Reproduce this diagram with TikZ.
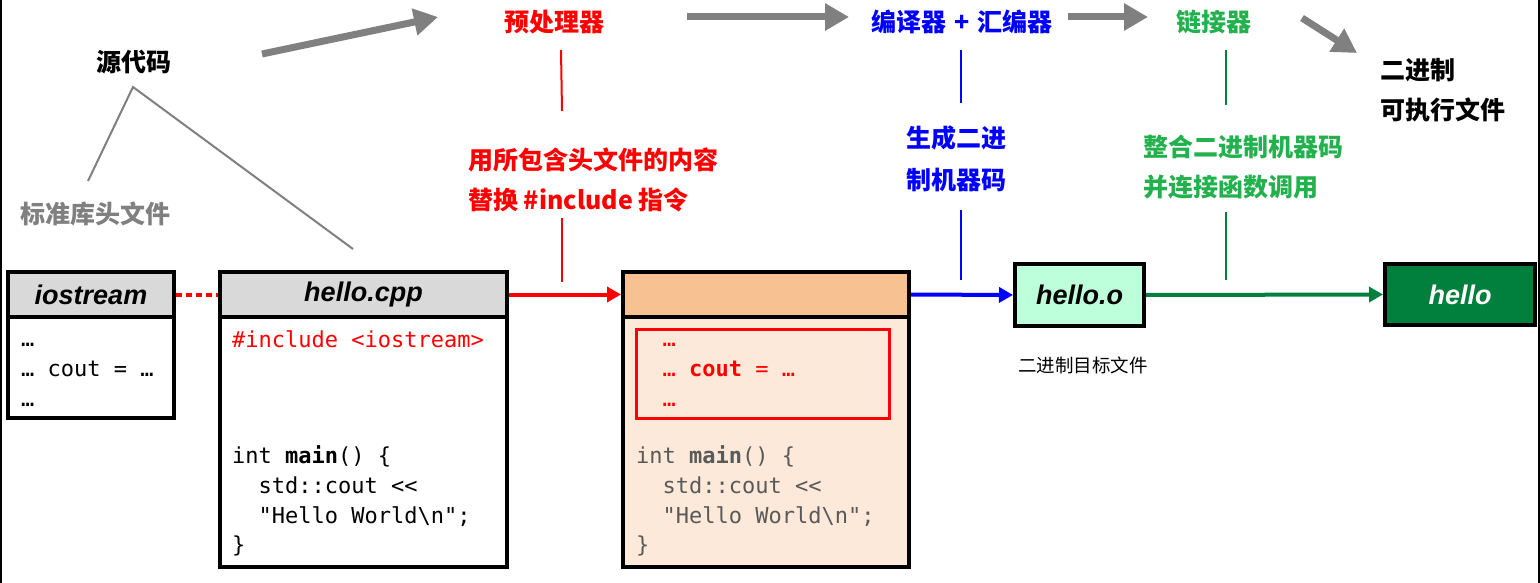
\documentclass[tikz,border=0pt]{standalone}
\usepackage{fontspec}
\setmainfont{Noto Sans}
\setmonofont{DejaVu Sans Mono}
\newfontfamily\cjk{Noto Sans CJK SC}
\newfontfamily\hdrf{Liberation Sans}
\usetikzlibrary{arrows.meta}
\definecolor{hdrgray}{HTML}{D9D9D9}
\definecolor{orangehdr}{HTML}{F8C191}
\definecolor{orangebody}{HTML}{FDE9D9}
\definecolor{mint}{HTML}{BDFFDA}
\definecolor{darkgreen}{HTML}{00803C}
\definecolor{lightgreen}{HTML}{22B14C}
\definecolor{arrowgray}{HTML}{808080}
\definecolor{codegray}{HTML}{595959}
\definecolor{pred}{HTML}{FF0000}
\definecolor{pblue}{HTML}{0000FF}
\begin{document}
\begin{tikzpicture}[x=1pt,y=-1pt,
  filebox/.style={draw=black, line width=4pt, inner sep=0pt},
  hdrfont/.style={font=\hdrf\bfseries\itshape\fontsize{27}{31}\selectfont},
  code/.style={anchor=base west, inner sep=0pt, font=\ttfamily\fontsize{22}{26}\selectfont},
  zh/.style={inner sep=0pt, font=\cjk\bfseries\fontsize{25}{29}\selectfont},
  zhl/.style={zh, anchor=west},
  bigarrow/.style={draw=arrowgray, line width=7pt, -{Triangle[length=24pt 0 0, width=26pt 0 0]}},
  colarrow/.style={line width=4pt, -{Triangle[length=14pt 0 0, width=15pt 0 0]}},
  thin/.style={line width=2pt},
  linkline/.style={draw=arrowgray, line width=2pt}
]
\useasboundingbox (0,0) rectangle (1540,583);
\fill[white] (0,0) rectangle (1540,583);
\draw[black, line width=2pt] (1,0) -- (1,583);
\draw[black, line width=2pt] (1538.5,0) -- (1538.5,583);

% ---------- iostream ----------
\node[filebox, fill=hdrgray, minimum width=166pt, minimum height=45pt, hdrfont] (ios) at (91,294.5) {iostream};
\node[filebox, fill=white, minimum width=166pt, minimum height=101pt] (iosbody) at (91,367.5) {};
\node[code] (ios1) at (21,346) {…};
\node[code] (ios2) at (21,376) {… cout = …};
\node[code] (ios3) at (21,406) {…};

% ---------- hello.cpp ----------
\node[filebox, fill=hdrgray, minimum width=287pt, minimum height=45pt, hdrfont] (cpp) at (363.5,294.5) {hello.cpp};
\node[filebox, fill=white, minimum width=287pt, minimum height=250pt] (cppbody) at (363.5,442) {};
\node[code, text=pred] (c1) at (232,347) {\#include <iostream>};
\node[code] (c2) at (232,463) {int \textbf{main}() \{};
\node[code] (c3) at (232,493) {\ \ std::cout <<};
\node[code] (c4) at (232,523) {\ \ "Hello World\textbackslash n";};
\node[code] (c5) at (232,552) {\}};

% ---------- preprocessed ----------
\node[filebox, fill=orangehdr, minimum width=286pt, minimum height=45pt] (pre) at (766,294.5) {};
\node[filebox, fill=orangebody, minimum width=286pt, minimum height=250pt] (prebody) at (766,442) {};
\node[draw=pred, line width=3pt, minimum width=253pt, minimum height=89pt, inner sep=0pt] (inc) at (762.5,373.5) {};
\node[code, text=pred] (p1) at (636,346) {\ \ …};
\node[code, text=pred] (p2) at (636,376) {\ \ … \textbf{cout} = …};
\node[code, text=pred] (p3) at (636,406) {\ \ …};
\node[code, text=codegray] (p4) at (636,463) {int \textbf{main}() \{};
\node[code, text=codegray] (p5) at (636,493) {\ \ std::cout <<};
\node[code, text=codegray] (p6) at (636,523) {\ \ "Hello World\textbackslash n";};
\node[code, text=codegray] (p7) at (636,552) {\}};

% ---------- hello.o / hello ----------
\node[filebox, fill=mint, minimum width=129pt, minimum height=62pt, hdrfont] (obj) at (1079.5,295) {hello.o};
\node[filebox, fill=darkgreen, text=white, minimum width=150pt, minimum height=61pt, hdrfont] (exe) at (1460,294.5) {hello};
\node[inner sep=0pt, font=\cjk\fontsize{18.5}{22}\selectfont] (objlbl) at (1083,365) {二进制目标文件};

% ---------- connectors between files ----------
\draw[pred, line width=4pt, dash pattern=on 6pt off 4pt] (ios.east) -- (cpp.west);
\draw[colarrow, pred] (cpp.east) -- (pre.west);
\draw[colarrow, pblue] (pre.east) -- (obj.west);
\draw[colarrow, darkgreen] (obj.east) -- (exe.west);

% ---------- top labels ----------
\node[zh] (src) at (134,62) {源代码};
\node[zh, text=arrowgray] (stdh) at (95,214) {标准库头文件};
\node[zh, text=pred] (ppr) at (554,22) {预处理器};
\node[zh, text=pblue] (cmp) at (962,22) {编译器\,\,+\,\,汇编器};
\node[zh, text=lightgreen] (lnk) at (1214,22) {链接器};
\node[zhl] (bin1) at (1380,70) {二进制};
\node[zhl] (bin2) at (1380,110) {可执行文件};

\node[zhl, text=pred] (rt1) at (468,160) {用所包含头文件的内容};
\node[zhl, text=pred] (rt2) at (468,200) {替换 \#include 指令};
\node[zhl, text=pblue] (bt1) at (906,138) {生成二进};
\node[zhl, text=pblue] (bt2) at (906,180) {制机器码};
\node[zhl, text=lightgreen] (gt1) at (1143,147) {整合二进制机器码};
\node[zhl, text=lightgreen] (gt2) at (1143,187) {并连接函数调用};

% ---------- source-code tree lines ----------
\coordinate (apex) at (133,87);
\coordinate (stdtop) at (88,181);
\coordinate (cpptop) at (353,249);
\draw[linkline] (stdtop) -- (apex) -- (cpptop);

% ---------- big gray arrows ----------
\coordinate (a1s) at (262,54);
\coordinate (a1e) at (438,17);
\coordinate (a2s) at (687,17);
\coordinate (a2e) at (849,17);
\coordinate (a3s) at (1068,17);
\coordinate (a3e) at (1148,17);
\coordinate (a4s) at (1302,18);
\coordinate (a4e) at (1357,53);
\draw[bigarrow] (a1s) -- (a1e);
\draw[bigarrow] (a2s) -- (a2e);
\draw[bigarrow] (a3s) -- (a3e);
\draw[bigarrow] (a4s) -- (a4e);

% ---------- vertical stage lines ----------
\coordinate (r1) at (561,50);  \coordinate (r2) at (562,111);
\coordinate (r3) at (562,218); \coordinate (r4) at (562,282);
\draw[thin, pred] (r1) -- (r2);
\draw[thin, pred] (r3) -- (r4);
\coordinate (b1) at (961,50);  \coordinate (b2) at (961,103);
\coordinate (b3) at (961,210); \coordinate (b4) at (961,280);
\draw[thin, pblue] (b1) -- (b2);
\draw[thin, pblue] (b3) -- (b4);
\coordinate (g1) at (1226,50);  \coordinate (g2) at (1226,105);
\coordinate (g3) at (1226,212); \coordinate (g4) at (1226,280);
\draw[thin, darkgreen] (g1) -- (g2);
\draw[thin, darkgreen] (g3) -- (g4);
\end{tikzpicture}
\end{document}
